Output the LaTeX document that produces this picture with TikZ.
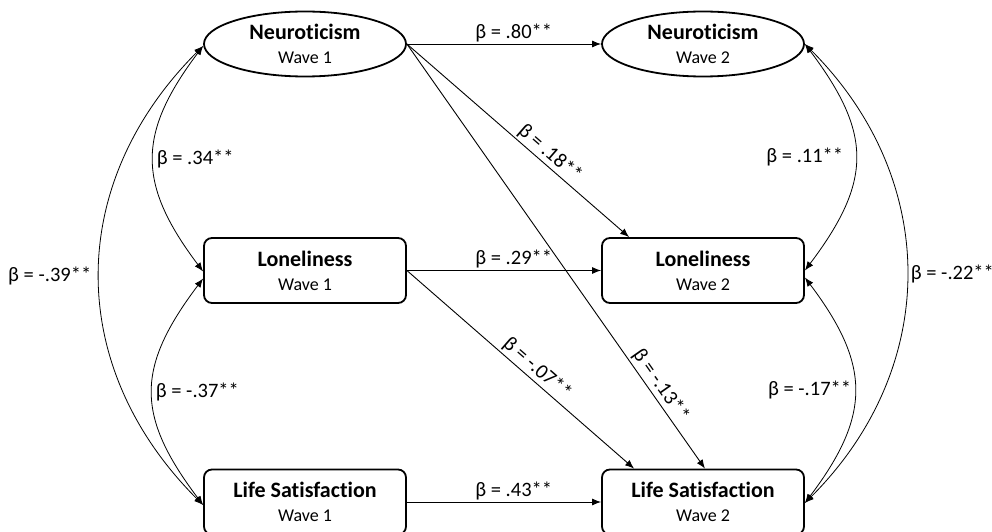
\documentclass[tikz,border=0pt]{standalone}
\usepackage{fontspec}
\setmainfont{Carlito}[Ligatures={NoCommon,NoContextual,NoRare}]
\usetikzlibrary{shapes.geometric,arrows.meta}

\newcommand{\varlabel}[2]{{\fontsize{22pt}{24pt}\selectfont\bfseries #1}\\#2}

\begin{document}
\begin{tikzpicture}[x=1pt,y=1pt,
    >={Latex[length=9pt,width=7pt]},
    latent/.style={ellipse, draw, line width=1.8pt, minimum width=202pt, minimum height=65pt,
      inner sep=0pt, align=center, font=\fontsize{18pt}{24pt}\selectfont},
    observed/.style={draw, rounded corners=8pt, line width=1.8pt, minimum width=202pt, minimum height=65pt,
      inner sep=0pt, align=center, font=\fontsize{18pt}{24pt}\selectfont},
    effect/.style={->, line width=0.9pt},
    covar/.style={<->, line width=0.8pt},
    coef/.style={font=\fontsize{20.5pt}{22pt}\selectfont, inner sep=2pt}]
\useasboundingbox (0,0) rectangle (992,531);
% wave 1 and wave 2
\node[latent] (N1) at (305,487) {\varlabel{Neuroticism}{Wave 1}};
\node[latent] (N2) at (703,487) {\varlabel{Neuroticism}{Wave 2}};
\node[observed] (L1) at (305,260.5) {\varlabel{Loneliness}{Wave 1}};
\node[observed] (L2) at (703,260.5) {\varlabel{Loneliness}{Wave 2}};
\node[observed] (S1) at (305,29) {\varlabel{Life Satisfaction}{Wave 1}};
\node[observed] (S2) at (703,29) {\varlabel{Life Satisfaction}{Wave 2}};
% paths
\draw[effect] (N1.east) -- node[coef,above,pos=0.55] {β = .80**} (N2.west);
\draw[effect] (L1.east) -- node[coef,above,pos=0.55] {β = .29**} (L2.west);
\draw[effect] (S1.east) -- node[coef,above,pos=0.55] {β = .43**} (S2.west);
\draw[effect] (N1.east) -- node[coef,above,sloped,pos=0.61] {β = .18**} ([xshift=28pt]L2.north west);
\draw[effect] (N1.east) -- node[coef,above,sloped,pos=0.82] {β = -.13**} ([xshift=2pt]S2.north);
\draw[effect] (L1.east) -- node[coef,above,sloped,pos=0.54] {β = -.07**} ([xshift=33pt]S2.north west);
% covariances
\draw[covar] ([yshift=-2pt]N1.west) to[out=233,in=127,looseness=1.25]
  node[coef,right,inner sep=3pt] {β = .34**} ([yshift=-1pt]L1.west);
\draw[covar] ([yshift=-8pt]L1.west) to[out=233,in=127,looseness=1.27]
  node[coef,right,inner sep=3pt] {β = -.37**} ([yshift=-3pt]S1.west);
\draw[covar] ([yshift=-2pt]N1.west) to[out=225,in=135,looseness=1.09]
  node[coef,left,xshift=-6pt] {β = -.39**} ([yshift=-3pt]S1.west);
\draw[covar] (N2.east) to[out=-53,in=53,looseness=1.27]
  node[coef,left,xshift=-10pt] {β = .11**} (L2.east);
\draw[covar] ([yshift=-7pt]L2.east) to[out=-53,in=53,looseness=1.25]
  node[coef,left,inner sep=3pt] {β = -.17**} ([yshift=-1pt]S2.east);
\draw[covar] (N2.east) to[out=-45,in=45,looseness=1.07]
  node[coef,right,inner sep=4pt] {β = -.22**} ([yshift=-1pt]S2.east);
\end{tikzpicture}
\end{document}
